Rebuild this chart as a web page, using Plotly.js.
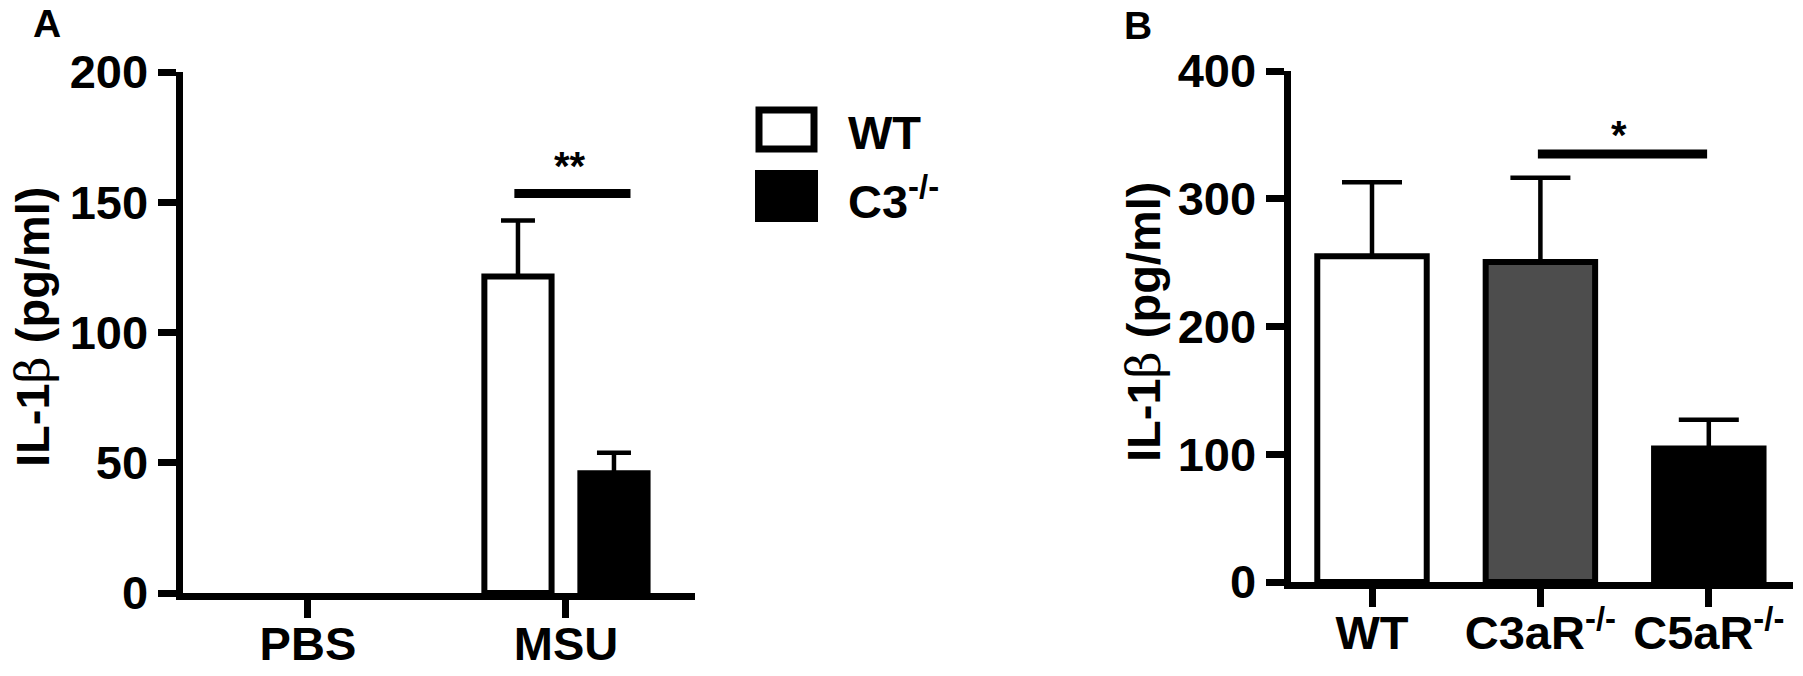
<!DOCTYPE html>
<html>
<head>
<meta charset="utf-8">
<script src="https://cdn.plot.ly/plotly-3.0.1.min.js"></script>
<style>html,body{margin:0;padding:0;background:#fff;}#chart{width:1803px;height:676px;}</style>
</head>
<body>
<div id="chart"></div>
<script>
// ---------- data ----------
const catsA = ['PBS', 'MSU'];
const wtA = [0, 121.5];
const wtAErr = [NaN, 21.5];
const c3A = [0, 46];
const c3AErr = [NaN, 7.8];
const legendA = ['WT', 'C3<sup>-/-</sup>'];
const sigA = {x0: 0.80, x1: 1.25, y: 153.4, label: '**'};

const catsB = ['WT', 'C3aR<sup>-/-</sup>', 'C5aR<sup>-/-</sup>'];
const valsB = [255, 250.5, 104.5];
const errB = [58, 66, 22.5];
const colorsB = ['#ffffff', '#4d4d4d', '#000000'];
const sigB = {x0: 0.985, x1: 1.99, y: 335, label: '*'};

const yTicksA = [0, 50, 100, 150, 200];
const yTicksB = [0, 100, 200, 300, 400];
const yTitle = "IL-1<span style='font-family:DejaVu Serif;font-weight:normal'>β</span> (pg/ml)";

// ---------- geometry ----------
const W = 1803, H = 676;
const px = v => v / W, py = v => 1 - v / H;
const FONT = 'Liberation Sans, Arial, sans-serif';
const tickFont = {family: FONT, size: 47, color: '#000', weight: 'bold'};
// hide outline / error of zero-height bars (PBS)
const lineW = vals => vals.map(v => (v > 0 ? 6 : 0));
const minus = errs => errs.map(e => (isNaN(e) ? NaN : 0));

const traces = [
  {type: 'bar', x: catsA, y: wtA, name: 'WT', xaxis: 'x', yaxis: 'y',
   marker: {color: '#ffffff', line: {color: '#000', width: lineW(wtA)}},
   error_y: {type: 'data', symmetric: false, array: wtAErr, arrayminus: minus(wtAErr), color: '#000', thickness: 4.5, width: 17},
   showlegend: false, hoverinfo: 'x+y'},
  {type: 'bar', x: catsA, y: c3A, name: 'C3-/-', xaxis: 'x', yaxis: 'y',
   marker: {color: '#000000', line: {color: '#000', width: lineW(c3A)}},
   error_y: {type: 'data', symmetric: false, array: c3AErr, arrayminus: minus(c3AErr), color: '#000', thickness: 4.5, width: 17},
   showlegend: false, hoverinfo: 'x+y'},
  {type: 'bar', x: catsB, y: valsB, xaxis: 'x2', yaxis: 'y2', width: 0.65,
   marker: {color: colorsB, line: {color: '#000', width: 6}},
   error_y: {type: 'data', symmetric: false, array: errB, arrayminus: minus(errB), color: '#000', thickness: 4.5, width: 30},
   showlegend: false, hoverinfo: 'x+y'}
];

const axCommon = {showgrid: false, zeroline: false, showline: true, linecolor: '#000', linewidth: 7,
  ticks: 'outside', ticklen: 18, tickwidth: 7, tickcolor: '#000', tickfont: tickFont, fixedrange: true};

const layout = {
  width: W, height: H, margin: {l: 0, r: 0, t: 0, b: 0},
  paper_bgcolor: '#fff', plot_bgcolor: 'rgba(0,0,0,0)',
  barmode: 'group', bargap: 0.256, bargroupgap: 0.3,
  font: {family: FONT, color: '#000'},
  xaxis: Object.assign({}, axCommon, {domain: [px(182.5), px(695)], anchor: 'y', type: 'category', range: [-0.486, 1.5], ticklabelstandoff: -14}),
  yaxis: Object.assign({}, axCommon, {domain: [py(593), py(72)], anchor: 'x', range: [0, 200], tickvals: yTicksA}),
  xaxis2: Object.assign({}, axCommon, {domain: [px(1290.5), px(1793)], anchor: 'y2', type: 'category', range: [-0.484, 2.5], ticklabelstandoff: -14}),
  yaxis2: Object.assign({}, axCommon, {domain: [py(582), py(71)], anchor: 'x2', range: [0, 400], tickvals: yTicksB}),
  shapes: [
    {type: 'line', xref: 'x', yref: 'y', x0: sigA.x0, x1: sigA.x1, y0: sigA.y, y1: sigA.y, line: {color: '#000', width: 9}},
    {type: 'line', xref: 'x2', yref: 'y2', x0: sigB.x0, x1: sigB.x1, y0: sigB.y, y1: sigB.y, line: {color: '#000', width: 9}},
    {type: 'rect', xref: 'paper', yref: 'paper', x0: px(759), x1: px(814), y0: py(149), y1: py(110), fillcolor: '#fff', line: {color: '#000', width: 7}},
    {type: 'rect', xref: 'paper', yref: 'paper', x0: px(755), x1: px(818), y0: py(222), y1: py(170), fillcolor: '#000', line: {width: 0}}
  ],
  annotations: [
    {text: 'A', xref: 'paper', yref: 'paper', x: px(47), y: py(24), xanchor: 'center', yanchor: 'middle', showarrow: false, font: {family: FONT, size: 39, weight: 'bold'}},
    {text: 'B', xref: 'paper', yref: 'paper', x: px(1138), y: py(25), xanchor: 'center', yanchor: 'middle', showarrow: false, font: {family: FONT, size: 39, weight: 'bold'}},
    {text: yTitle, xref: 'paper', yref: 'paper', x: px(32), y: py(327), xanchor: 'center', yanchor: 'middle', textangle: -90, showarrow: false, font: {family: FONT, size: 47, weight: 'bold'}},
    {text: yTitle, xref: 'paper', yref: 'paper', x: px(1143), y: py(322), xanchor: 'center', yanchor: 'middle', textangle: -90, showarrow: false, font: {family: FONT, size: 47, weight: 'bold'}},
    {text: sigA.label, xref: 'x', yref: 'y', x: 1.016, y: sigA.y, yshift: 3, yanchor: 'bottom', showarrow: false, font: {family: FONT, size: 40, weight: 'bold'}},
    {text: sigB.label, xref: 'x2', yref: 'y2', x: 1.466, y: sigB.y, yshift: -5, yanchor: 'bottom', showarrow: false, font: {family: FONT, size: 40, weight: 'bold'}},
    {text: legendA[0], xref: 'paper', yref: 'paper', x: px(846), y: py(132), xanchor: 'left', yanchor: 'middle', showarrow: false, font: {family: FONT, size: 47, weight: 'bold'}},
    {text: legendA[1], xref: 'paper', yref: 'paper', x: px(846), y: py(198), xanchor: 'left', yanchor: 'middle', showarrow: false, font: {family: FONT, size: 47, weight: 'bold'}}
  ]
};

Plotly.newPlot('chart', traces, layout, {displayModeBar: false, staticPlot: true});
</script>
</body>
</html>
